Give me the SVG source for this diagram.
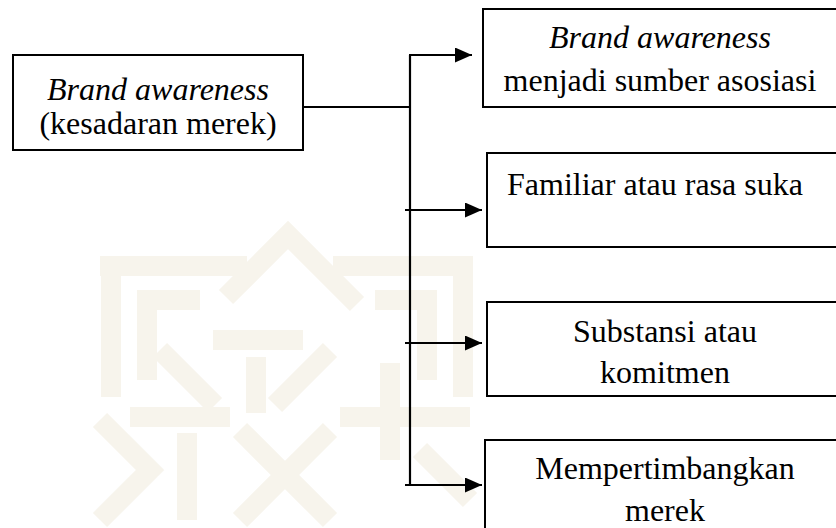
<svg xmlns="http://www.w3.org/2000/svg" width="836" height="528" viewBox="0 0 836 528">
  <style>
    .box { fill: #ffffff; stroke: #000000; stroke-width: 2; }
    .t { font-family: 'Liberation Serif', 'Times New Roman', serif; font-size: 32px; fill: #000000; }
    .i { font-style: italic; }
    .c { text-anchor: middle; }
    .conn { fill: none; stroke: #000000; stroke-width: 2.2; }
    .wm { fill: none; stroke: #f7f4ec; stroke-width: 20; stroke-linecap: butt; stroke-linejoin: miter; }
  </style>
  <defs>
    <marker id="arrow" markerUnits="userSpaceOnUse" markerWidth="17" markerHeight="15" refX="17" refY="7.5" orient="auto">
      <path d="M0,0 L17,7.5 L0,15 Z" fill="#000000"/>
    </marker>
  </defs>
  <rect width="836" height="528" fill="#ffffff"/>

  <g id="watermark">
    <polyline class="wm" points="100,266 247,266"/>
    <polyline class="wm" points="111,266 111,397"/>
    <polyline class="wm" points="333,266 473,266"/>
    <polyline class="wm" points="463,266 463,397"/>
    <polyline class="wm" points="226,297 288,235 357,304"/>
    <polyline class="wm" points="200,300 147,300 147,380"/>
    <polyline class="wm" points="375,300 427,300 427,380"/>
    <polyline class="wm" points="213,340 303,340"/>
    <polyline class="wm" points="256,357 256,413"/>
    <polyline class="wm" points="160,350 215,405"/>
    <polyline class="wm" points="330,350 275,405"/>
    <polyline class="wm" points="130,417 230,417"/>
    <polyline class="wm" points="340,417 470,417"/>
    <polyline class="wm" points="187,433 187,520"/>
    <polyline class="wm" points="390,363 390,460"/>
    <polyline class="wm" points="100,420 150,470 100,520"/>
    <polyline class="wm" points="240,430 330,520"/>
    <polyline class="wm" points="330,430 240,520"/>
    <polyline class="wm" points="420,450 470,500"/>
  </g>

  <g id="connectors">
    <path class="conn" d="M303,107 H410"/>
    <path class="conn" d="M410,55 V486"/>
    <path class="conn" d="M409,55 H472" marker-end="url(#arrow)"/>
    <path class="conn" d="M405,210 H482" marker-end="url(#arrow)"/>
    <path class="conn" d="M405,343 H482" marker-end="url(#arrow)"/>
    <path class="conn" d="M405,485 H482" marker-end="url(#arrow)"/>
  </g>

  <g id="node-brand-awareness">
    <rect class="box" x="13" y="55" width="290" height="95"/>
    <text class="t i c" x="158" y="100">Brand awareness</text>
    <text class="t c" x="158" y="134">(kesadaran merek)</text>
  </g>

  <g id="node-sumber-asosiasi">
    <rect class="box" x="483" y="9" width="370" height="98"/>
    <text class="t i c" x="660" y="48">Brand awareness</text>
    <text class="t c" x="660" y="91">menjadi sumber asosiasi</text>
  </g>

  <g id="node-familiar">
    <rect class="box" x="487" y="153" width="370" height="94"/>
    <text class="t" x="507" y="195">Familiar atau rasa suka</text>
  </g>

  <g id="node-substansi">
    <rect class="box" x="487" y="302" width="370" height="94"/>
    <text class="t c" x="665" y="342">Substansi atau</text>
    <text class="t c" x="665" y="383">komitmen</text>
  </g>

  <g id="node-mempertimbangkan">
    <rect class="box" x="485" y="440" width="370" height="120"/>
    <text class="t c" x="665" y="479">Mempertimbangkan</text>
    <text class="t c" x="665" y="521">merek</text>
  </g>
</svg>
